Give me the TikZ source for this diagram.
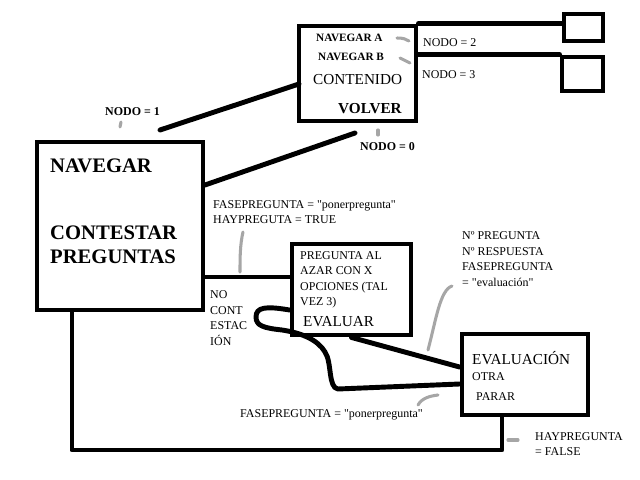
\documentclass[tikz,border=0pt]{standalone}
\usepackage{fontspec}
\setmainfont{Liberation Serif}
\newfontfamily\plainserif{Liberation Serif}
\usetikzlibrary{fit}
\newcommand{\qq}{{\plainserif\char34}}
\begin{document}
\begin{tikzpicture}[x=0.03cm,y=-0.03cm,
  box/.style={draw=black,line width=4.2pt,inner sep=0pt,rectangle},
  conn/.style={draw=black,line width=4.2pt,line cap=round,line join=round},
  tick/.style={draw=black!35,line width=2.6pt,line cap=round},
  lbl/.style={anchor=west,inner sep=0pt,align=left,font=\fontsize{10.2}{13.2}\selectfont},
  lblb/.style={lbl,font=\fontsize{10.2}{13.2}\selectfont\bfseries},
  big/.style={anchor=west,inner sep=0pt,align=left,font=\fontsize{17.6}{20.5}\selectfont\bfseries},
  mid/.style={anchor=west,inner sep=0pt,font=\fontsize{13}{15}\selectfont}]
\useasboundingbox[fill=white] (0,0) rectangle (640,480);
% boxes
\node[box,fit={(37,142) (203,310)}] (main) {};
\node[box,fit={(299,26) (416,121)}] (cont) {};
\node[box,fit={(564,14) (603,41)}] (b1) {};
\node[box,fit={(562,57) (603,91)}] (b2) {};
\node[box,fit={(292,244) (411,335)}] (preg) {};
\node[box,fit={(462,334) (588,415)}] (eval) {};
% box texts
\node[big] (tnav) at (50,166) {NAVEGAR};
\node[big] (tcon) at (50,245) {CONTESTAR\\PREGUNTAS};
\node[lblb,font=\fontsize{9.6}{12}\selectfont\bfseries] (tna) at (316,38) {NAVEGAR A};
\node[lblb,font=\fontsize{9.6}{12}\selectfont\bfseries] (tnb) at (318,57) {NAVEGAR B};
\node[mid] (tcont) at (313,80) {CONTENIDO};
\node[mid,font=\fontsize{13}{15}\selectfont\bfseries] (tvol) at (338,109) {VOLVER};
\node[lbl] (tpreg) at (300,280) {PREGUNTA AL\\AZAR CON X\\OPCIONES (TAL\\VEZ 3)};
\node[mid] (tevr) at (303,322) {EVALUAR};
\node[mid] (tev) at (472,358) {EVALUACIÓN};
\node[lbl] (totra) at (472,377) {OTRA};
\node[lbl] (tparar) at (476,397) {PARAR};
% connectors
\coordinate (n1a) at (160,130);
\coordinate (n1b) at (299,84);
\draw[conn] (n1a) -- (n1b);
\coordinate (n0a) at (205,185);
\coordinate (n0b) at (355,133);
\draw[conn] (n0a) -- (n0b);
\draw[conn] (cont.north east) -- (cont.north east -| b1.west);
\draw[conn] (cont.east |- b2.north west) -- (b2.north west);
\draw[conn] (main.east |- 0,277) -- (preg.west |- 0,277);
\draw[conn] (preg.south) -- (eval.west |- 0,367);
\draw[conn] (eval.west |- 0,384) -- (338,389)
  .. controls (328,388) and (332,362) .. (325,352)
  .. controls (318,340) and (302,333) .. (282,330)
  .. controls (264,328) and (256,326) .. (256,317)
  .. controls (256,307) and (266,306) .. (preg.west |- 0,310);
\draw[conn] (main.south -| 72,0) -- (72,450) -- (502,450) -- (eval.south -| 502,0);
% labels
\node[lblb] (l1) at (105,112) {NODO = 1};
\node[lblb] (l0) at (360,147) {NODO = 0};
\node[lbl] (l2) at (423,43) {NODO = 2};
\node[lbl] (l3) at (422,75) {NODO = 3};
\node[lbl] (lfase) at (213,212) {FASEPREGUNTA = \qq ponerpregunta\qq\\HAYPREGUTA = TRUE};
\node[lbl] (lno) at (210,318) {NO\\CONT\\ESTAC\\IÓN};
\node[lbl] (lnum) at (462,259) {Nº PREGUNTA\\Nº RESPUESTA\\FASEPREGUNTA\\= \qq evaluación\qq};
\node[lbl] (lfase2) at (240,415) {FASEPREGUNTA = \qq ponerpregunta\qq};
\node[lbl] (lhay) at (535,444) {HAYPREGUNTA\\= FALSE};
% grey ticks
\draw[tick] (121,122) -- (120,127);
\draw[tick] (378,130) -- (378,135);
\draw[tick] (397,38) .. controls (403,38) and (406,39) .. (409,41);
\draw[tick] (400,58) -- (410,63);
\draw[tick] (243,232) .. controls (240,245) and (240,258) .. (240,272);
\draw[tick] (452,286) .. controls (440,290) and (436,320) .. (428,350);
\draw[tick] (418,405) .. controls (422,398) and (430,396) .. (438,395);
\draw[tick] (508,440) -- (518,440);
\end{tikzpicture}
\end{document}
